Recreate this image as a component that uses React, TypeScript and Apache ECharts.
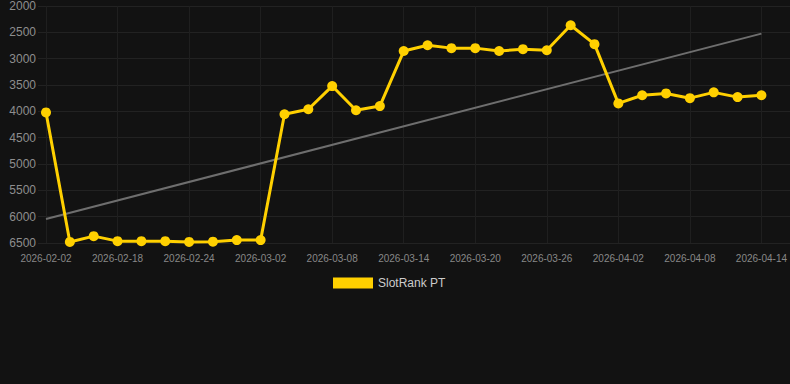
import React, { useEffect, useRef } from "react";
import * as echarts from "echarts";

const categories: string[] = [
  "2026-02-02", "2026-02-14", "2026-02-16", "2026-02-18", "2026-02-20", "2026-02-22",
  "2026-02-24", "2026-02-26", "2026-02-28", "2026-03-02", "2026-03-04", "2026-03-06",
  "2026-03-08", "2026-03-10", "2026-03-12", "2026-03-14", "2026-03-16", "2026-03-18",
  "2026-03-20", "2026-03-22", "2026-03-24", "2026-03-26", "2026-03-28", "2026-03-30",
  "2026-04-02", "2026-04-04", "2026-04-06", "2026-04-08", "2026-04-10", "2026-04-12",
  "2026-04-14",
];

const rankValues: number[] = [
  4020, 6480, 6370, 6465, 6465, 6465, 6480, 6475, 6445, 6445,
  4055, 3960, 3520, 3980, 3900, 2855, 2745, 2800, 2800, 2855,
  2820, 2840, 2365, 2725, 3850, 3695, 3660, 3750, 3640, 3730,
  3695,
];

const trendStart = 6045;
const trendEnd = 2525;

const yTicks = { min: 2000, max: 6500, interval: 500 };

const seriesName = "SlotRank PT";

export default function App() {
  const ref = useRef<HTMLDivElement>(null);

  useEffect(() => {
    if (!ref.current) return;
    const chart = echarts.init(ref.current, undefined, { renderer: "svg" });
    const trendData = categories.map((_, i) =>
      i === 0 ? trendStart : i === categories.length - 1 ? trendEnd : null
    );
    chart.setOption({
      animation: false,
      backgroundColor: "#121212",
      textStyle: { fontFamily: "Arial, Liberation Sans, sans-serif" },
      grid: [
        { left: 46, right: 28, top: 6, bottom: 141 },
        { left: 38, right: 0, top: 6, bottom: 141 },
      ],
      legend: {
        data: [seriesName],
        left: 333,
        top: 277,
        padding: 0,
        icon: "rect",
        itemWidth: 40,
        itemHeight: 11,
        itemGap: 10,
        textStyle: { color: "#cccccc", fontSize: 12 },
      },
      xAxis: [
        {
          type: "category",
          gridIndex: 0,
          data: categories,
          boundaryGap: false,
          axisLine: { show: false },
          axisTick: { show: false },
          axisLabel: {
            interval: 2,
            color: "#888888",
            fontSize: 10,
            margin: 10,
          },
          splitLine: {
            show: true,
            interval: 2,
            lineStyle: { color: "#1f1f1f", width: 1 },
          },
        },
        {
          type: "value",
          gridIndex: 1,
          show: false,
          min: 0,
          max: 1,
        },
      ],
      yAxis: [
        {
          type: "value",
          gridIndex: 0,
          inverse: true,
          min: yTicks.min,
          max: yTicks.max,
          interval: yTicks.interval,
          show: false,
        },
        {
          type: "value",
          gridIndex: 1,
          inverse: true,
          min: yTicks.min,
          max: yTicks.max,
          interval: yTicks.interval,
          axisLine: { show: false },
          axisTick: { show: false },
          axisLabel: {
            color: "#8e8e8e",
            fontSize: 12,
            margin: 2,
            formatter: (v: number) => String(v),
          },
          splitLine: { show: true, lineStyle: { color: "#222222", width: 1 } },
        },
      ],
      series: [
        {
          name: "Trend",
          type: "line",
          xAxisIndex: 0,
          yAxisIndex: 0,
          data: trendData,
          connectNulls: true,
          showSymbol: false,
          symbol: "none",
          lineStyle: { color: "#6e6e6e", width: 2 },
          z: 1,
          silent: true,
        },
        {
          name: seriesName,
          type: "line",
          xAxisIndex: 0,
          yAxisIndex: 0,
          data: rankValues,
          symbol: "circle",
          symbolSize: 10,
          lineStyle: { color: "#ffd000", width: 3 },
          itemStyle: { color: "#ffd000" },
          z: 3,
        },
      ],
    });
    return () => chart.dispose();
  }, []);

  return (
    <div
      ref={ref}
      style={{ position: "absolute", left: 0, top: 0, width: 790, height: 384 }}
    />
  );
}
